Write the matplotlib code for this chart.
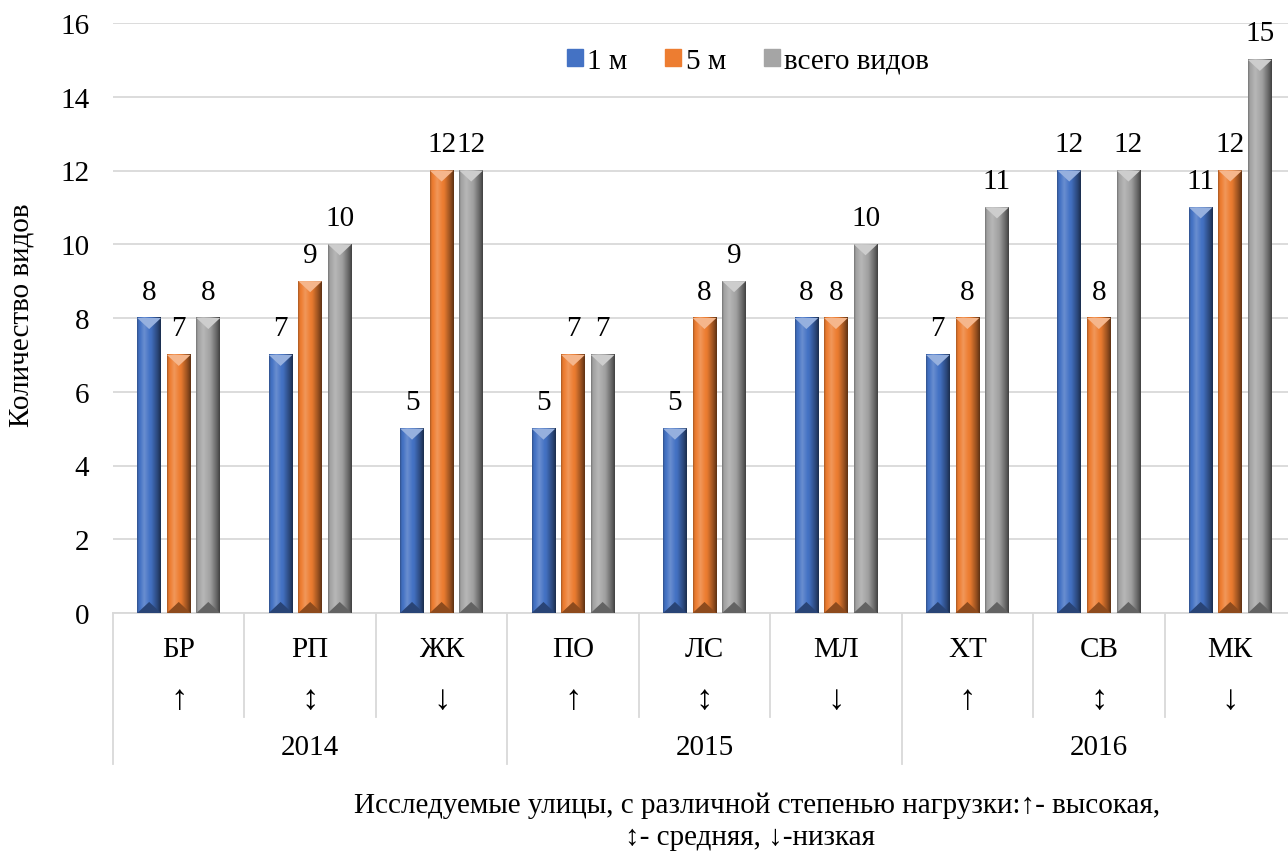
import numpy as np
import matplotlib.pyplot as plt
from matplotlib.patches import Polygon, Rectangle
from matplotlib.colors import to_rgb

streets = ['БР', 'РП', 'ЖК', 'ПО', 'ЛС', 'МЛ', 'ХТ', 'СВ', 'МК']
load = ['↑', '↕', '↓', '↑', '↕', '↓', '↑', '↕', '↓']
years = ['2014', '2015', '2016']
series = ['1 м', '5 м', 'всего видов']
m1 = [8, 7, 5, 5, 5, 8, 7, 12, 11]
m5 = [7, 9, 12, 7, 8, 8, 8, 8, 12]
total = [8, 10, 12, 7, 9, 10, 11, 12, 15]
colors = ['#4472C4', '#ED7D31', '#A5A5A5']

plt.rcParams['font.family'] = ['Liberation Serif', 'DejaVu Serif']
plt.rcParams['font.size'] = 21

W, H = 1288, 854
fig = plt.figure(figsize=(W / 100, H / 100), dpi=100)
ax = fig.add_axes([113 / W, 240 / H, 1183 / W, 590 / H])


def tint(c, k):
    c = np.array(to_rgb(c))
    if k >= 1:
        return np.clip(c + (1 - c) * (k - 1) * 2, 0, 1)
    return c * k


# profile across a bar: darker edges, highlight on the left
t = np.linspace(0, 1, 48)
shade = np.interp(t, [0, 0.07, 0.3, 0.6, 0.88, 1], [0.72, 0.97, 1.1, 0.97, 0.6, 0.4])

x = np.arange(len(streets))
bw = 0.18
step = 0.225
for i, (vals, col) in enumerate(zip([m1, m5, total], colors)):
    xs = x + (i - 1) * step
    bars = ax.bar(xs, vals, bw, color=col, zorder=2)
    img = np.array([tint(col, k) for k in shade])[None, :, :]
    for b, v in zip(bars, vals):
        x0, w, h = b.get_x(), b.get_width(), b.get_height()
        ax.imshow(img, extent=[x0, x0 + w, 0, h], aspect='auto', zorder=3,
                  interpolation='bilinear')
        dh = 0.3
        ax.add_patch(Polygon([[x0, h], [x0 + w, h], [x0 + w / 2, h - dh]],
                             closed=True, color=tint(col, 1.22), lw=0, zorder=4))
        ax.add_patch(Polygon([[x0, 0], [x0 + w, 0], [x0 + w / 2, dh]],
                             closed=True, color=tint(col, 0.6), lw=0, zorder=4))
        ax.annotate(str(v), (x0 + w / 2, h), xytext=(0, 19), textcoords='offset points',
                    ha='center', va='center', zorder=5)

ax.set_xlim(-0.5, len(streets) - 0.5)
ax.set_ylim(0, 16)
ax.set_yticks(range(0, 17, 2))
ax.set_xticks([])
ax.grid(axis='y', color='#d9d9d9', lw=1.3, zorder=0)
ax.set_axisbelow(True)
for s in ['left', 'right', 'top']:
    ax.spines[s].set_visible(False)
ax.spines['bottom'].set_color('#d9d9d9')
ax.spines['bottom'].set_linewidth(1.3)
ax.tick_params(axis='y', length=0, pad=17)

# multi-level category axis
tr = ax.get_xaxis_transform()
ax_h = 590
for i, (s, a) in enumerate(zip(streets, load)):
    ax.text(i, -36 / ax_h, s, transform=tr, ha='center', va='center')
    ax.text(i, -86 / ax_h, a, transform=tr, ha='center', va='center', fontsize=25)
for j, y in enumerate(years):
    ax.text(3 * j + 1, -134 / ax_h, y, transform=tr, ha='center', va='center')
for k in range(len(streets) + 1):
    bottom = -151 / ax_h if k % 3 == 0 else -104 / ax_h
    ax.plot([k - 0.5, k - 0.5], [0, bottom], transform=tr, color='#d9d9d9',
            lw=1.3, clip_on=False)

fig.text(22 / W, 1 - 315 / H, 'Количество видов', rotation=90, ha='center', va='center')
fig.text(757 / W, 1 - 806 / H, 'Исследуемые улицы, с различной степенью нагрузки:↑- высокая,',
         ha='center', va='center')
fig.text(750 / W, 1 - 838 / H, '↕- средняя, ↓-низкая', ha='center', va='center')

handles = [Rectangle((0, 0), 1, 1, color=c) for c in colors]
fig.legend(handles, series, loc='center', bbox_to_anchor=(748 / W, 1 - 62 / H), ncol=3,
           frameon=False, handlelength=0.55, handleheight=0.55, handletextpad=0.15,
           columnspacing=1.3)

fig.savefig('out.png', dpi=100)
